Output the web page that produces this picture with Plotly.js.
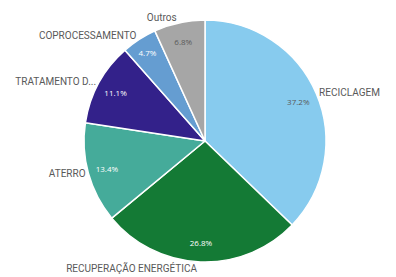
<!DOCTYPE html>
<html>
<head>
<meta charset="utf-8">
<script src="https://cdn.plot.ly/plotly-3.0.1.min.js"></script>
<style>html,body{margin:0;padding:0;background:#fff;}#chart{width:396px;height:277px;}</style>
</head>
<body>
<div id="chart"></div>
<script>
var categories = ["RECICLAGEM", "RECUPERAÇÃO ENERGÉTICA", "ATERRO", "TRATAMENTO D...", "COPROCESSAMENTO", "Outros"];
var shares = [37.2, 26.8, 13.4, 11.1, 4.7, 6.8];
var sliceColors = ["#87CBEE", "#147A35", "#45AB9A", "#33218A", "#659DD1", "#A6A6A6"];
var pctColors = ["#595959", "#ffffff", "#ffffff", "#ffffff", "#ffffff", "#595959"];

var dom = {x: [84/396, 326/396], y: [15/277, 257/277]};
var fontFam = "Open Sans, Roboto, sans-serif";
var clear = categories.map(function(){return "rgba(0,0,0,0)";});

var base = {
  type: "pie", labels: categories, values: shares, sort: false, direction: "clockwise", rotation: 0,
  domain: dom,
  marker: {colors: sliceColors, line: {color: "#ffffff", width: 1.5}},
  textinfo: "none",
  hoverinfo: "none", showlegend: false
};
var pct = {
  type: "pie", labels: categories, values: shares, sort: false, direction: "clockwise", rotation: 0,
  domain: dom, hole: 0.68,
  marker: {colors: clear, line: {width: 0}},
  texttemplate: "%{value:.1f}%", textposition: "inside", insidetextorientation: "horizontal",
  insidetextfont: {family: fontFam, size: 8, color: pctColors},
  hoverinfo: "none", showlegend: false
};
var outer = {
  type: "pie", labels: categories, values: shares, sort: false, direction: "clockwise", rotation: 0,
  domain: dom,
  marker: {colors: clear, line: {width: 0}},
  textinfo: "label", textposition: "outside",
  outsidetextfont: {family: "Roboto, Open Sans, sans-serif", size: 10, color: "#595959"},
  hoverinfo: "none", showlegend: false
};

Plotly.newPlot("chart", [base, pct, outer], {
  width: 396, height: 277,
  margin: {l: 0, r: 0, t: 0, b: 0},
  paper_bgcolor: "#ffffff",
  showlegend: false
}, {staticPlot: true, displayModeBar: false});
</script>
</body>
</html>
